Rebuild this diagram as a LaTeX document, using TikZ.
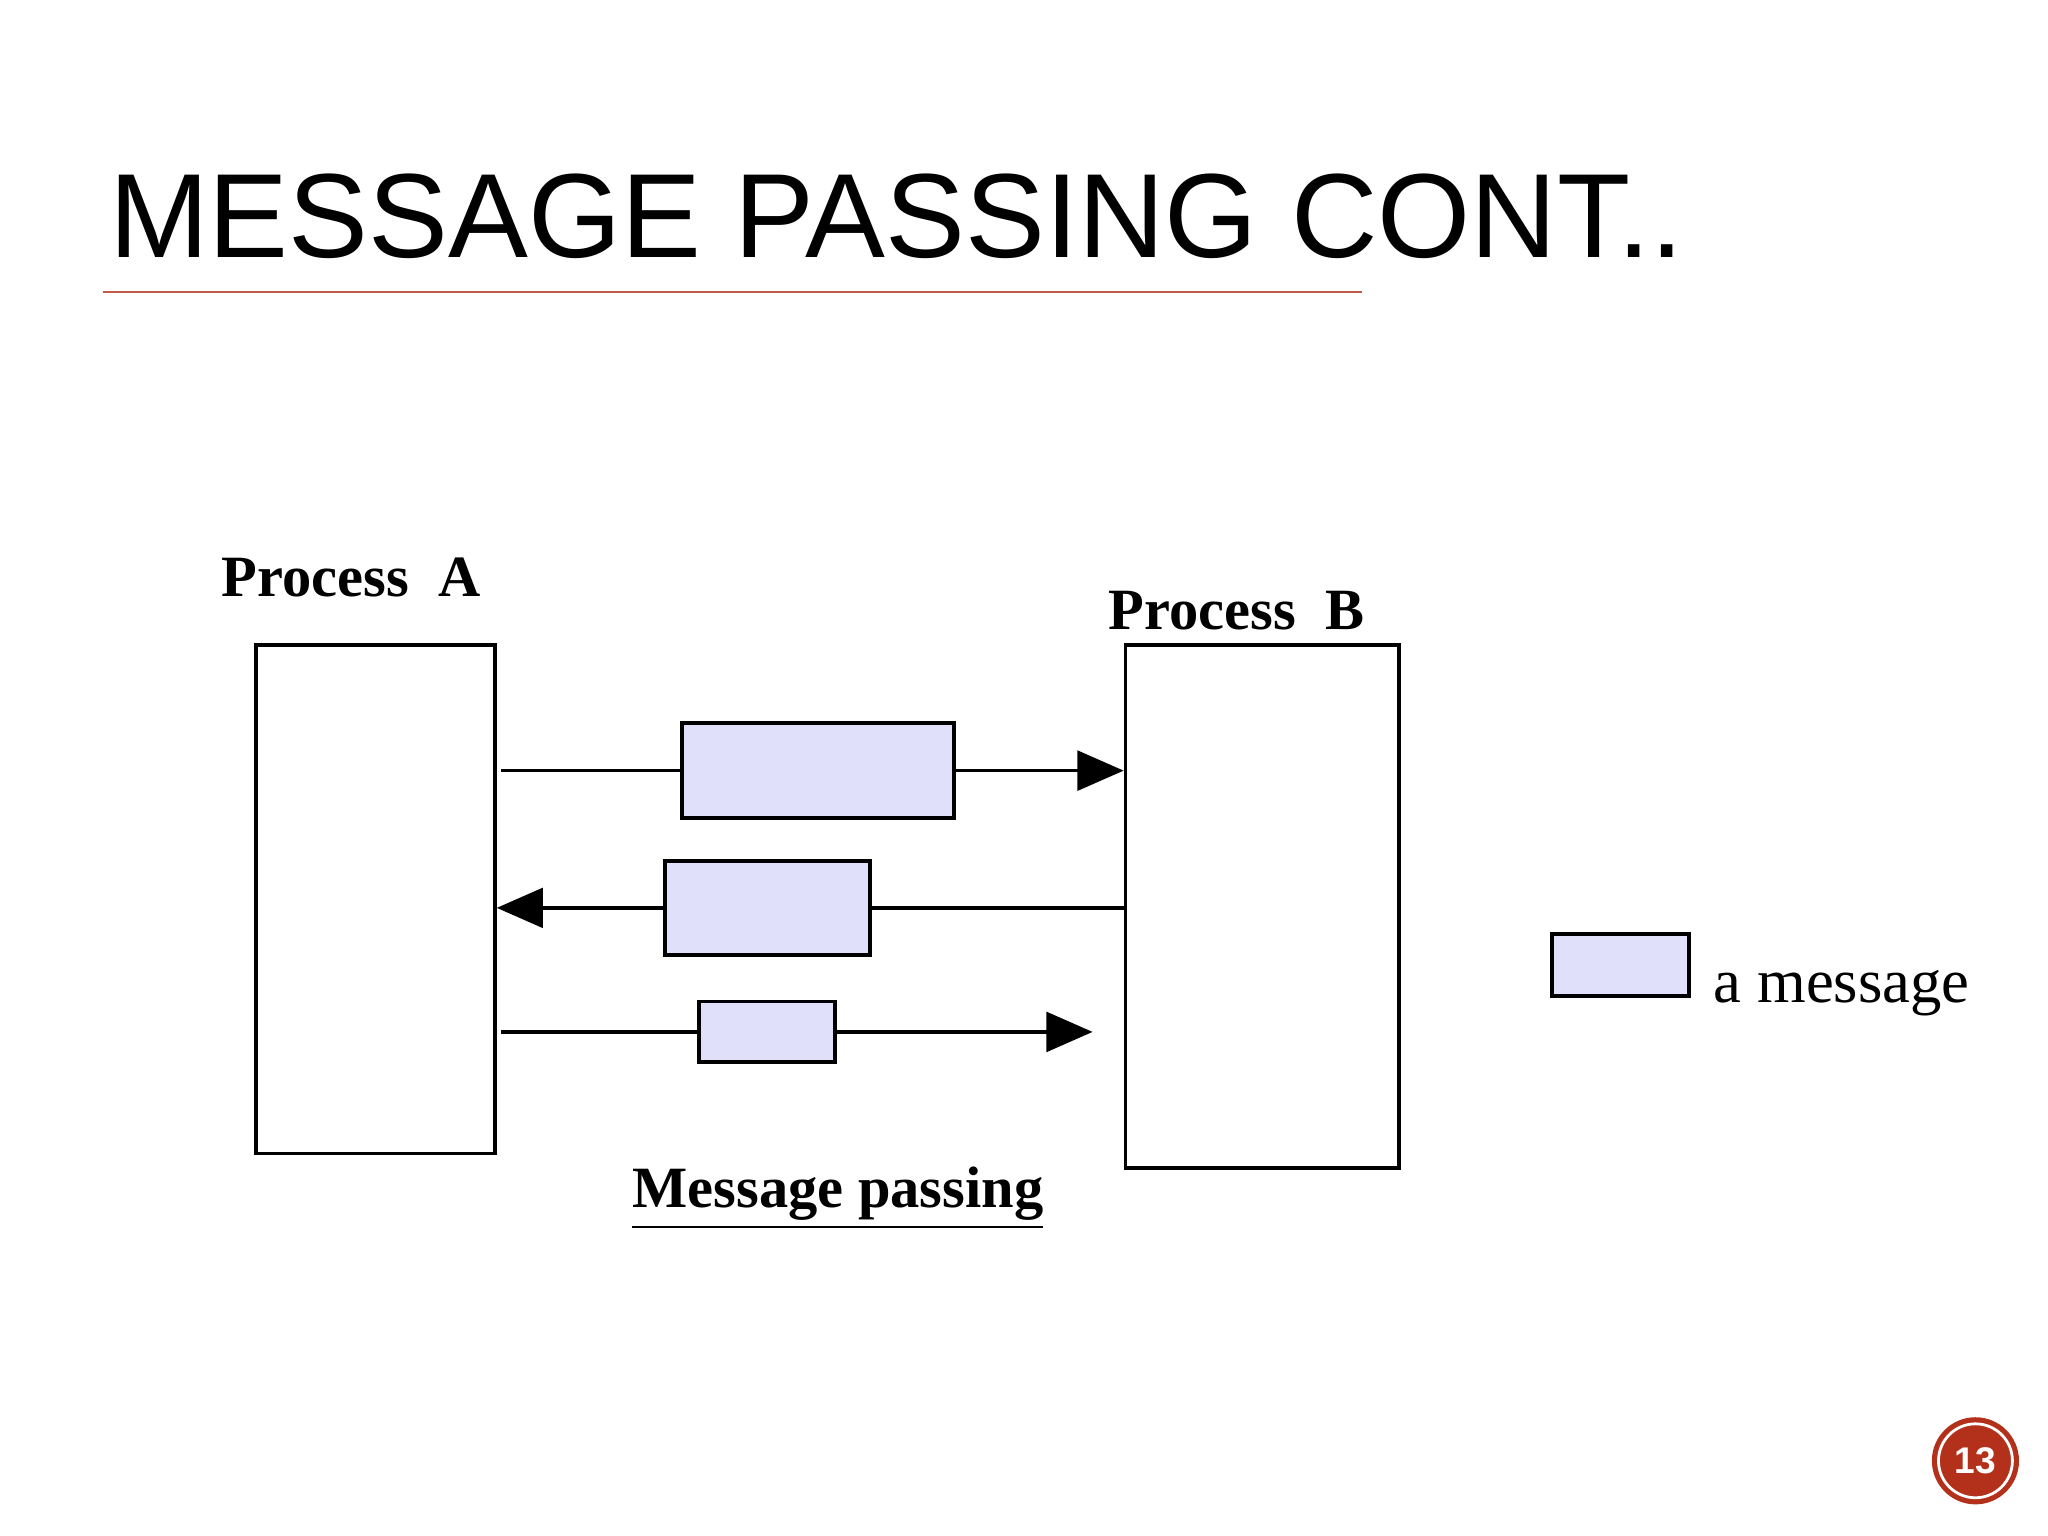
\documentclass[tikz,border=0pt]{standalone}
\usepackage{fontspec}
\setmainfont{Liberation Serif}
\newfontfamily\titlefont{Liberation Sans}
\usetikzlibrary{arrows.meta,positioning}
\definecolor{msgfill}{HTML}{E0E0FA}
\definecolor{slidered}{HTML}{B3301A}
\begin{document}
\begin{tikzpicture}[
		x=0.01cm, y=-0.01cm,
		proc/.style = {draw, line width=0.8pt, inner sep=0pt},
		msg/.style = {draw, line width=0.8pt, fill=msgfill, inner sep=0pt},
		lbl/.style = {font=\fontsize{12.6pt}{15pt}\selectfont\bfseries},
		flow/.style = {line width=0.8pt, -{Triangle[length=0.35cm,width=0.3cm]}}
	]
	\useasboundingbox (0,0) rectangle (1552,1164);
	% title
	\node[anchor=base west, inner sep=0pt, font=\titlefont\fontsize{25.8pt}{30pt}\selectfont] (title) at (82,195) {MESSAGE PASSING CONT..};
	\draw[slidered!80, line width=0.4pt] (78,221) -- (1032,221);
	% processes
	\node[proc, minimum width=1.81cm, minimum height=3.85cm] (A) at (284.5,681.5) {};
	\node[proc, minimum width=2.07cm, minimum height=3.96cm] (B) at (956.5,687) {};
	\node[lbl] (labA) at (266,438) {Process\ \ A};
	\node[lbl] (labB) at (937,463) {Process\ \ B};
	% messages
	\node[msg, minimum width=2.06cm, minimum height=0.72cm] (m1) at (620,584) {};
	\node[msg, minimum width=1.55cm, minimum height=0.71cm] (m2) at (581.5,688) {};
	\node[msg, minimum width=1.03cm, minimum height=0.46cm] (m3) at (581.5,782) {};
	\coordinate (s1) at (380,584);
	\coordinate (s3) at (380,782);
	\coordinate (e3) at (828,782);
	\draw[line width=0.8pt] (s1) -- (m1.west);
	\draw[flow] (m1.east) -- (B.west |- m1.east);
	\draw[line width=0.8pt] (B.west |- m2.east) -- (m2.east);
	\draw[flow] (m2.west) -- (A.east |- m2.west);
	\draw[line width=0.8pt] (s3) -- (m3.west);
	\draw[flow] (m3.east) -- (e3);
	% legend
	\node[msg, minimum width=1.04cm, minimum height=0.47cm] (key) at (1228,731.5) {};
	\node[anchor=base west, inner sep=0pt, font=\fontsize{13.5pt}{16pt}\selectfont] (keylbl) at (1298,760) {a message};
	\node[lbl] (cap) at (635,908) {\underline{Message passing}};
	% page number
	\node[circle, fill=slidered, minimum size=0.66cm, inner sep=0pt] (pg) at (1497,1107) {};
	\draw[white, line width=0.6pt] (pg.center) circle (0.28cm);
	\node[text=white, font=\titlefont\bfseries\fontsize{8pt}{9pt}\selectfont] at (pg.center) {13};
\end{tikzpicture}
\end{document}
